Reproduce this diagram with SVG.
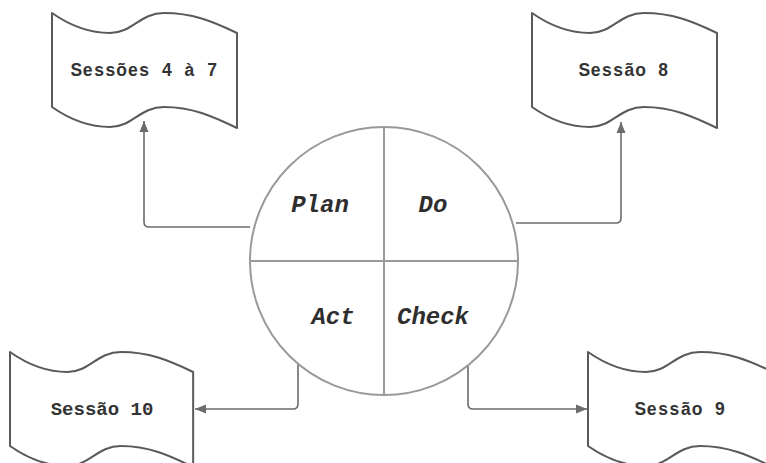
<svg xmlns="http://www.w3.org/2000/svg" xmlns:xlink="http://www.w3.org/1999/xlink" width="766" height="463" viewBox="0 0 766 463">
  <style>
    .tape { fill: #ffffff; stroke: #5a5a5a; stroke-width: 2; stroke-linejoin: round; }
    .ring { fill: #ffffff; stroke: #9a9a9a; stroke-width: 2; }
    .quad { stroke: #9a9a9a; stroke-width: 2; fill: none; }
    .conn { fill: none; stroke: #6b6b6b; stroke-width: 1.6; }
    .lbl-sans { font-family: "Liberation Sans", Arial, sans-serif; font-weight: bold; font-size: 17.5px; fill: #333333; text-anchor: middle; }
    .lbl-mono { font-family: "Liberation Mono", "Courier New", monospace; font-weight: bold; font-size: 19px; fill: #333333; text-anchor: middle; }
    .pdca { font-family: "Liberation Mono", "Courier New", monospace; font-weight: bold; font-style: italic; font-size: 24px; fill: #2e2e2e; text-anchor: middle; }
  </style>
  <defs>
    <path id="tapeShape" d="M0,0 C20,14 38,20 58,20 C80,20 88,0 112,0 C140,0 160,8 185,20 L185,115 C160,103 140,94 112,94 C88,94 80,114 58,114 C38,114 20,108 0,94 Z"/>
    <marker id="arrow" markerUnits="userSpaceOnUse" markerWidth="12" markerHeight="10" refX="11" refY="5" orient="auto">
      <path d="M0,0.5 L11,5 L0,9.5 Z" fill="#6b6b6b"/>
    </marker>
  </defs>

  <g id="connectors">
    <path class="conn" d="M250,227 L149,227 Q144,227 144,222 L144,121" marker-end="url(#arrow)"/>
    <path class="conn" d="M516,223 L616,223 Q621,223 621,218 L621,122" marker-end="url(#arrow)"/>
    <path class="conn" d="M298,364 L298,404 Q298,409 293,409 L195,409" marker-end="url(#arrow)"/>
    <path class="conn" d="M468,365 L468,404 Q468,409 473,409 L587,409" marker-end="url(#arrow)"/>
  </g>

  <g id="pdca-circle">
    <circle class="ring" cx="384" cy="261" r="134"/>
    <line class="quad" x1="250" y1="261" x2="518" y2="261"/>
    <line class="quad" x1="384" y1="127" x2="384" y2="395"/>
    <text class="pdca" x="320" y="212">Plan</text>
    <text class="pdca" x="433" y="212">Do</text>
    <text class="pdca" x="333" y="324">Act</text>
    <text class="pdca" x="433" y="324">Check</text>
  </g>

  <g id="sessoes-4-7">
    <use xlink:href="#tapeShape" href="#tapeShape" class="tape" transform="translate(52,13)"/>
    <text class="lbl-sans" x="76.4 87.7 99.0 110.3 121.6 132.9 144.2 155.5 166.8 178.1 189.4 200.7 212.0" y="76">Sessões 4 à 7</text>
  </g>

  <g id="sessao-8">
    <use xlink:href="#tapeShape" href="#tapeShape" class="tape" transform="translate(532,13)"/>
    <text class="lbl-sans" x="584.3 595.5 606.8 618.0 629.3 640.5 651.7 663.0" y="76">Sessão 8</text>
  </g>

  <g id="sessao-10">
    <use xlink:href="#tapeShape" href="#tapeShape" class="tape" transform="translate(10,352) scale(0.99,1)"/>
    <text class="lbl-mono" x="102" y="415">Sessão 10</text>
  </g>

  <g id="sessao-9">
    <use xlink:href="#tapeShape" href="#tapeShape" class="tape" transform="translate(588,352)"/>
    <text class="lbl-sans" x="640.3 651.7 663.0 674.4 685.8 697.2 708.5 719.9" y="415">Sessão 9</text>
  </g>
</svg>
